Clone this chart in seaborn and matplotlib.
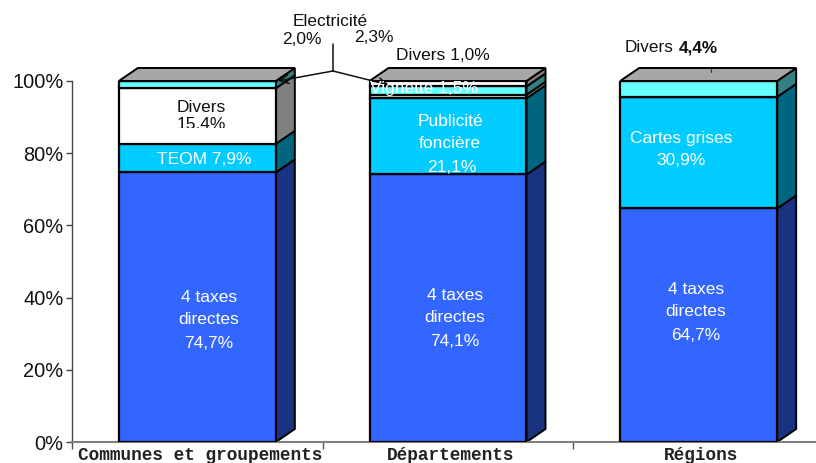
import matplotlib
matplotlib.use('Agg')
import matplotlib.pyplot as plt
import seaborn as sns
from matplotlib.patches import Polygon
from matplotlib.transforms import Bbox, ScaledTranslation, TransformedBbox

categories = ['Communes et groupements', 'Départements', 'Régions']
yticks = [0, 20, 40, 60, 80, 100]

# one list per stacked layer, bottom to top
taxes = [74.7, 74.1, 64.7]
second = [7.9, 21.1, 30.9]
divers_low = [15.4, 1.0, 0.0]
electricite = [2.0, 2.3, 4.4]
vignette = [0.0, 1.5, 0.0]

layers = [taxes, second, divers_low, electricite, vignette]
front_colors = ['#3366FF', '#00CCFF', '#FFFFFF', '#66FFFF', '#FFFFFF']
side_colors = ['#1A3380', '#006680', '#808080', '#338080', '#808080']
top_color = '#A6A6A6'

W, H = 816, 463
sns.set_style('white')
plt.rcParams['font.family'] = ['Liberation Sans', 'DejaVu Sans']

fig = plt.figure(figsize=(W / 100, H / 100), dpi=100)
ax = fig.add_axes([72 / W, 1 - 442 / H, 752 / W, 361 / H])


def px(x, y):
    return x / W, 1 - y / H


# stacked bars, bottom up
bottom = [0.0, 0.0, 0.0]
for vals, col in zip(layers, front_colors):
    sns.barplot(x=categories, y=vals, bottom=bottom, color=col, saturation=1,
                width=157 / 250.67, edgecolor='black', linewidth=1.6, ax=ax, zorder=3)
    bottom = [b + v for b, v in zip(bottom, vals)]

ax.set_xlim(-0.5, 2.5)
ax.set_ylim(0, 100)

# fake 3d depth from the bars themselves
dx = 19 / 250.67
dy = 13 / 3.61
side_cols = [c for c, vals in zip(side_colors, layers) for _ in vals]
for bar, col in zip(ax.patches, side_cols):
    if bar.get_height() == 0:
        continue
    x1 = bar.get_x() + bar.get_width()
    y0, y1 = bar.get_y(), bar.get_y() + bar.get_height()
    ax.add_patch(Polygon([(x1, y0), (x1 + dx, y0 + dy), (x1 + dx, y1 + dy), (x1, y1)],
                         closed=True, fc=col, ec='black', lw=1.4, clip_on=False, zorder=2))
    if y1 >= 99.99:
        x0 = bar.get_x()
        ax.add_patch(Polygon([(x0, y1), (x0 + dx, y1 + dy), (x1 + dx, y1 + dy), (x1, y1)],
                             closed=True, fc=top_color, ec='black', lw=1.4, clip_on=False, zorder=2))

# axes
ax.set_yticks(yticks)
ax.set_yticklabels([f'{v}%' for v in yticks], fontsize=14.4, color='#111111')
ax.set_xticks([0, 1, 2])
ax.set_xticklabels(categories, family='Liberation Mono', fontsize=12.75, fontweight='bold',
                   color='#222222')
ax.set_xticks([-0.5, 0.5, 1.5], minor=True)
ax.tick_params(axis='y', left=True, length=4.3, width=1, color='#444444', pad=1.8)
ax.tick_params(axis='x', which='major', length=0, pad=3.5)
ax.tick_params(axis='x', which='minor', bottom=True, length=5, width=1, color='#555555')
ax.grid(False)
for s in ['top', 'right']:
    ax.spines[s].set_visible(False)
ax.spines['left'].set_color('#444444')
ax.spines['left'].set_linewidth(1)
ax.spines['bottom'].set_color('#808080')
ax.spines['bottom'].set_linewidth(1.5)

# x labels sit a little right of the category centres
shift = ScaledTranslation(2.5 / 100, 0, fig.dpi_scale_trans)
for lab in ax.get_xticklabels():
    lab.set_transform(lab.get_transform() + shift)

# labels inside the bars
white_labels = [
    ('4 taxes', 209, 298), ('directes', 209, 320), ('74,7%', 209, 343),
    ('4 taxes', 455, 295), ('directes', 455, 318), ('74,1%', 455, 341),
    ('4 taxes', 696, 289), ('directes', 696, 312), ('64,7%', 696, 335),
    ('TEOM 7,9%', 204, 159),
    ('Publicité', 450, 121), ('foncière', 450, 144), ('21,1%', 452, 167),
    ('Cartes grises', 681, 138), ('30,9%', 681, 161),
    ('Vignette 1,5%', 424, 89),
]
for txt, x, y in white_labels:
    fig.text(*px(x, y), txt, color='white', fontsize=12.5, ha='center', va='center', zorder=6)

black_labels = [
    ('Divers', 201, 107),
    ('Electricité', 330, 22), ('2,0%', 302, 39), ('2,3%', 374, 38),
    ('Divers 1,0%', 443, 56),
]
for txt, x, y in black_labels:
    fig.text(*px(x, y), txt, color='#111111', fontsize=12.5, ha='center', va='center', zorder=6)

# this one is cut off by its box in the source
cut = fig.text(*px(201, 125), '15,4%', color='#111111', fontsize=12.5, ha='center', va='center', zorder=6)
cut.set_clip_box(TransformedBbox(Bbox([[0, 1 - 127.5 / H], [1, 1]]), fig.transFigure))
cut.set_clip_on(True)

fig.text(*px(625, 48), 'Divers', color='#111111', fontsize=12.3, ha='left', va='center')
fig.text(*px(679, 48), '4,4%', color='#111111', fontsize=12.3, ha='left', va='center', fontweight='bold')

# leader lines
fig.add_artist(plt.Line2D([333 / W, 333 / W], [1 - 44 / H, 1 - 71 / H], color='#111111', lw=1.1,
                          transform=fig.transFigure, zorder=7))
for tx, ty in [(278, 81), (389, 85)]:
    ax.annotate('', xy=(tx, H - ty), xytext=(333, H - 71), xycoords='figure pixels',
                textcoords='figure pixels', annotation_clip=False, zorder=7,
                arrowprops=dict(arrowstyle='->', color='#111111', lw=1.1, shrinkA=0, shrinkB=0,
                                mutation_scale=16))
fig.add_artist(plt.Line2D([711 / W, 711 / W], [1 - 69 / H, 1 - 72 / H], color='#333333', lw=0.8,
                          transform=fig.transFigure, zorder=7))

fig.savefig('out.png', dpi=100)
